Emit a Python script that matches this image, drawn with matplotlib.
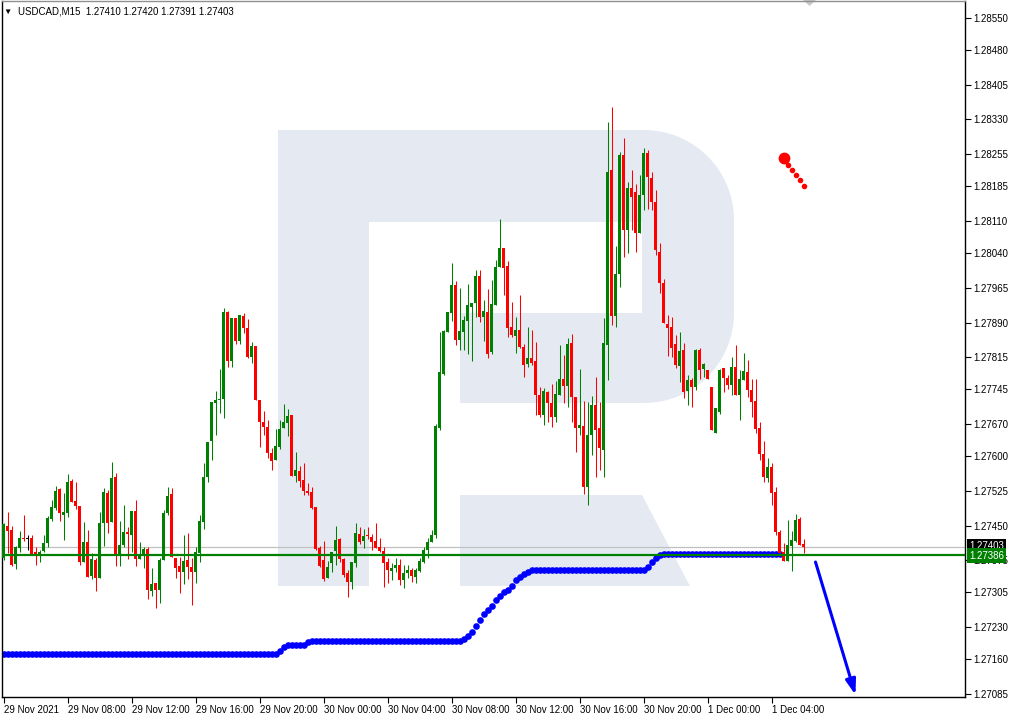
import numpy as np
import matplotlib.pyplot as plt
import matplotlib.transforms as mtransforms
from matplotlib.patches import Rectangle, Polygon, PathPatch
from matplotlib.path import Path

plt.rcParams['font.family'] = ['Liberation Sans', 'DejaVu Sans']

# USDCAD M15 candles, 29 Nov 04:00 .. 1 Dec 06:00
opens = [1.27380, 1.27449, 1.27440, 1.27367, 1.27401, 1.27423, 1.27423, 1.27423, 1.27393, 1.27388,
         1.27395, 1.27412, 1.27464, 1.27488, 1.27529, 1.27473, 1.27477, 1.27547, 1.27503, 1.27492,
         1.27371, 1.27414, 1.27341, 1.27375, 1.27336, 1.27456, 1.27521, 1.27458, 1.27555, 1.27388,
         1.27408, 1.27436, 1.27430, 1.27482, 1.27378, 1.27388, 1.27399, 1.27308, 1.27326, 1.27310,
         1.27375, 1.27477, 1.27518, 1.27380, 1.27362, 1.27349, 1.27375, 1.27360, 1.27349, 1.27391,
         1.27458, 1.27555, 1.27633, 1.27716, 1.27722, 1.27724, 1.27913, 1.27807, 1.27900, 1.27850,
         1.27904, 1.27878, 1.27815, 1.27839, 1.27722, 1.27675, 1.27664, 1.27607, 1.27592, 1.27620,
         1.27661, 1.27672, 1.27690, 1.27557, 1.27568, 1.27549, 1.27525, 1.27523, 1.27490, 1.27401,
         1.27375, 1.27336, 1.27369, 1.27395, 1.27421, 1.27378, 1.27347, 1.27328, 1.27369, 1.27432,
         1.27417, 1.27430, 1.27425, 1.27417, 1.27404, 1.27395, 1.27371, 1.27352, 1.27358, 1.27365,
         1.27332, 1.27347, 1.27354, 1.27339, 1.27352, 1.27371, 1.27397, 1.27414, 1.27430, 1.27661,
         1.27778, 1.27870, 1.27911, 1.27971, 1.27852, 1.27870, 1.27893, 1.27924, 1.27932, 1.27991,
         1.27902, 1.27913, 1.27826, 1.27928, 1.28010, 1.28052, 1.28013, 1.27880, 1.27861, 1.27874,
         1.27837, 1.27800, 1.27813, 1.27807, 1.27733, 1.27690, 1.27740, 1.27716, 1.27685, 1.27733,
         1.27768, 1.27753, 1.27846, 1.27729, 1.27661, 1.27666, 1.27534, 1.27646, 1.27711, 1.27661,
         1.27614, 1.27841, 1.28221, 1.27904, 1.27995, 1.28253, 1.28091, 1.28182, 1.28173, 1.28084,
         1.28166, 1.28257, 1.28203, 1.28151, 1.28043, 1.27976, 1.27887, 1.27880, 1.27844, 1.27796,
         1.27831, 1.27742, 1.27765, 1.27750, 1.27831, 1.27789, 1.27787, 1.27750, 1.27651, 1.27696,
         1.27792, 1.27770, 1.27755, 1.27794, 1.27733, 1.27765, 1.27783, 1.27744, 1.27720, 1.27661,
         1.27605, 1.27553, 1.27577, 1.27523, 1.27436, 1.27393, 1.27373, 1.27406, 1.27417, 1.27464,
         1.27410]
highs = [1.27456, 1.27479, 1.27449, 1.27406, 1.27438, 1.27473, 1.27430, 1.27430, 1.27404, 1.27397,
         1.27430, 1.27471, 1.27505, 1.27536, 1.27531, 1.27521, 1.27562, 1.27551, 1.27544, 1.27492,
         1.27458, 1.27440, 1.27391, 1.27380, 1.27479, 1.27531, 1.27527, 1.27588, 1.27564, 1.27460,
         1.27495, 1.27447, 1.27482, 1.27505, 1.27414, 1.27404, 1.27404, 1.27358, 1.27326, 1.27380,
         1.27484, 1.27534, 1.27531, 1.27380, 1.27382, 1.27430, 1.27434, 1.27380, 1.27404, 1.27473,
         1.27586, 1.27631, 1.27718, 1.27742, 1.27789, 1.27922, 1.27915, 1.27900, 1.27900, 1.27906,
         1.27911, 1.27898, 1.27848, 1.27839, 1.27722, 1.27698, 1.27679, 1.27618, 1.27659, 1.27679,
         1.27713, 1.27703, 1.27690, 1.27610, 1.27579, 1.27586, 1.27542, 1.27534, 1.27490, 1.27406,
         1.27417, 1.27373, 1.27393, 1.27449, 1.27423, 1.27380, 1.27354, 1.27371, 1.27456, 1.27447,
         1.27443, 1.27447, 1.27432, 1.27456, 1.27423, 1.27404, 1.27380, 1.27369, 1.27380, 1.27378,
         1.27365, 1.27365, 1.27358, 1.27358, 1.27380, 1.27404, 1.27423, 1.27440, 1.27670, 1.27870,
         1.27874, 1.27913, 1.28019, 1.27980, 1.27965, 1.27904, 1.27974, 1.27932, 1.28004, 1.28004,
         1.27939, 1.27963, 1.27982, 1.28026, 1.28114, 1.28052, 1.28023, 1.27935, 1.27902, 1.27950,
         1.27844, 1.27880, 1.27874, 1.27848, 1.27750, 1.27748, 1.27742, 1.27757, 1.27763, 1.27841,
         1.27820, 1.27857, 1.27865, 1.27729, 1.27789, 1.27720, 1.27718, 1.27731, 1.27772, 1.27718,
         1.27900, 1.28325, 1.28357, 1.28056, 1.28260, 1.28290, 1.28195, 1.28221, 1.28190, 1.28210,
         1.28268, 1.28264, 1.28216, 1.28177, 1.28062, 1.27984, 1.27906, 1.27902, 1.27863, 1.27869,
         1.27846, 1.27776, 1.27770, 1.27833, 1.27835, 1.27802, 1.27787, 1.27750, 1.27705, 1.27789,
         1.27792, 1.27776, 1.27815, 1.27841, 1.27787, 1.27824, 1.27809, 1.27768, 1.27768, 1.27675,
         1.27633, 1.27597, 1.27586, 1.27534, 1.27440, 1.27412, 1.27462, 1.27438, 1.27475, 1.27468,
         1.27420]
lows = [1.27375, 1.27391, 1.27362, 1.27356, 1.27393, 1.27417, 1.27397, 1.27388, 1.27365, 1.27371,
        1.27393, 1.27404, 1.27460, 1.27484, 1.27460, 1.27419, 1.27468, 1.27501, 1.27486, 1.27365,
        1.27371, 1.27339, 1.27334, 1.27308, 1.27336, 1.27406, 1.27434, 1.27458, 1.27362, 1.27362,
        1.27404, 1.27378, 1.27393, 1.27362, 1.27378, 1.27358, 1.27291, 1.27297, 1.27271, 1.27282,
        1.27375, 1.27473, 1.27382, 1.27336, 1.27304, 1.27323, 1.27334, 1.27278, 1.27326, 1.27371,
        1.27443, 1.27544, 1.27592, 1.27646, 1.27694, 1.27683, 1.27794, 1.27794, 1.27844, 1.27844,
        1.27867, 1.27813, 1.27802, 1.27722, 1.27620, 1.27646, 1.27597, 1.27570, 1.27592, 1.27616,
        1.27661, 1.27644, 1.27557, 1.27544, 1.27534, 1.27516, 1.27516, 1.27486, 1.27397, 1.27360,
        1.27330, 1.27336, 1.27349, 1.27365, 1.27371, 1.27339, 1.27295, 1.27313, 1.27360, 1.27410,
        1.27401, 1.27421, 1.27397, 1.27401, 1.27393, 1.27317, 1.27326, 1.27332, 1.27349, 1.27321,
        1.27315, 1.27336, 1.27328, 1.27326, 1.27349, 1.27369, 1.27380, 1.27414, 1.27423, 1.27657,
        1.27776, 1.27870, 1.27893, 1.27841, 1.27831, 1.27831, 1.27822, 1.27807, 1.27902, 1.27891,
        1.27850, 1.27813, 1.27822, 1.27928, 1.28010, 1.27950, 1.27859, 1.27859, 1.27824, 1.27835,
        1.27772, 1.27794, 1.27798, 1.27690, 1.27685, 1.27668, 1.27675, 1.27664, 1.27675, 1.27733,
        1.27716, 1.27707, 1.27675, 1.27610, 1.27646, 1.27518, 1.27495, 1.27603, 1.27555, 1.27570,
        1.27555, 1.27765, 1.27885, 1.27880, 1.27967, 1.28032, 1.28041, 1.28091, 1.28043, 1.28084,
        1.28134, 1.28136, 1.28134, 1.28036, 1.27954, 1.27889, 1.27818, 1.27815, 1.27792, 1.27761,
        1.27727, 1.27711, 1.27707, 1.27744, 1.27768, 1.27772, 1.27768, 1.27657, 1.27651, 1.27692,
        1.27740, 1.27746, 1.27733, 1.27733, 1.27679, 1.27765, 1.27729, 1.27685, 1.27651, 1.27592,
        1.27544, 1.27544, 1.27495, 1.27430, 1.27391, 1.27373, 1.27373, 1.27352, 1.27414, 1.27408,
        1.27391]
closes = [1.27453, 1.27438, 1.27365, 1.27404, 1.27423, 1.27420, 1.27423, 1.27388, 1.27388, 1.27393,
          1.27412, 1.27466, 1.27490, 1.27525, 1.27477, 1.27479, 1.27544, 1.27501, 1.27492, 1.27371,
          1.27414, 1.27339, 1.27378, 1.27336, 1.27456, 1.27523, 1.27456, 1.27553, 1.27388, 1.27408,
          1.27436, 1.27432, 1.27482, 1.27378, 1.27388, 1.27399, 1.27310, 1.27323, 1.27310, 1.27375,
          1.27477, 1.27514, 1.27382, 1.27358, 1.27349, 1.27373, 1.27360, 1.27349, 1.27393, 1.27460,
          1.27555, 1.27631, 1.27718, 1.27722, 1.27724, 1.27913, 1.27807, 1.27900, 1.27850, 1.27906,
          1.27878, 1.27815, 1.27839, 1.27722, 1.27675, 1.27664, 1.27607, 1.27590, 1.27622, 1.27659,
          1.27675, 1.27688, 1.27557, 1.27570, 1.27547, 1.27525, 1.27521, 1.27488, 1.27399, 1.27362,
          1.27334, 1.27360, 1.27393, 1.27419, 1.27378, 1.27343, 1.27328, 1.27371, 1.27434, 1.27414,
          1.27427, 1.27427, 1.27414, 1.27401, 1.27395, 1.27369, 1.27354, 1.27358, 1.27365, 1.27332,
          1.27347, 1.27354, 1.27341, 1.27354, 1.27373, 1.27397, 1.27414, 1.27430, 1.27666, 1.27783,
          1.27872, 1.27913, 1.27971, 1.27852, 1.27872, 1.27896, 1.27928, 1.27932, 1.27991, 1.27902,
          1.27915, 1.27822, 1.27930, 1.28010, 1.28052, 1.28008, 1.27878, 1.27863, 1.27874, 1.27837,
          1.27798, 1.27813, 1.27802, 1.27733, 1.27690, 1.27742, 1.27716, 1.27685, 1.27735, 1.27768,
          1.27753, 1.27844, 1.27729, 1.27661, 1.27668, 1.27534, 1.27646, 1.27711, 1.27657, 1.27618,
          1.27846, 1.28216, 1.27904, 1.27995, 1.28253, 1.28091, 1.28182, 1.28162, 1.28084, 1.28166,
          1.28257, 1.28205, 1.28151, 1.28047, 1.27976, 1.27889, 1.27878, 1.27835, 1.27798, 1.27828,
          1.27740, 1.27765, 1.27750, 1.27831, 1.27787, 1.27800, 1.27768, 1.27657, 1.27705, 1.27787,
          1.27770, 1.27755, 1.27794, 1.27733, 1.27768, 1.27785, 1.27744, 1.27718, 1.27659, 1.27605,
          1.27555, 1.27577, 1.27521, 1.27436, 1.27391, 1.27373, 1.27408, 1.27419, 1.27462, 1.27408,
          1.27403]

# blue dotted support line, one dot per bar
blue_stop = ([1.27172] * 69 + [1.27178, 1.27187] + [1.27191] * 5 + [1.27198] + [1.27200] * 38
             + [1.27204, 1.27211, 1.27219, 1.27232, 1.27245, 1.27258, 1.27267, 1.27276, 1.27289,
                1.27297, 1.27306, 1.27310, 1.27319, 1.27332, 1.27339, 1.27345, 1.27349]
             + [1.27353] * 29 + [1.27360, 1.27371, 1.27380, 1.27386] + [1.27388] * 30)

red_bars = [195, 196, 197, 198, 199, 200]
red_prices = [1.28247, 1.28231, 1.28221, 1.28210, 1.28199, 1.28186]

arrow_bars = [203, 213]
arrow_prices = [1.27371, 1.27083]

bid = 1.27403
level = 1.27386

time_labels = ['29 Nov 2021', '29 Nov 08:00', '29 Nov 12:00', '29 Nov 16:00', '29 Nov 20:00',
               '30 Nov 00:00', '30 Nov 04:00', '30 Nov 08:00', '30 Nov 12:00', '30 Nov 16:00',
               '30 Nov 20:00', '1 Dec 00:00', '1 Dec 04:00']
bars_per_label = 16
price_labels = ['1.28550', '1.28480', '1.28405', '1.28330', '1.28255', '1.28185', '1.28110',
                '1.28040', '1.27965', '1.27890', '1.27815', '1.27745', '1.27670', '1.27600',
                '1.27525', '1.27450', '1.27375', '1.27305', '1.27230', '1.27160', '1.27085']

W, H = 1011, 718
fig = plt.figure(figsize=(W / 100, H / 100), dpi=100)
fig.patch.set_facecolor('white')

# watermark logo, in pixel units
bg = fig.add_axes([0, 0, 1, 1], zorder=0)
bg.set_xlim(0, W)
bg.set_ylim(H, 0)
bg.axis('off')
pale = '#e5eaf2'
r = 90
k = 0.5523 * r
verts = [(278, 130), (734 - r, 130), (734 - r + k, 130), (734, 130 + r - k), (734, 130 + r),
         (734, 403 - r), (734, 403 - r + k), (734 - r + k, 403), (734 - r, 403), (278, 403), (278, 130)]
codes = [Path.MOVETO, Path.LINETO, Path.CURVE4, Path.CURVE4, Path.CURVE4,
         Path.LINETO, Path.CURVE4, Path.CURVE4, Path.CURVE4, Path.LINETO, Path.CLOSEPOLY]
bg.add_patch(PathPatch(Path(verts, codes), fc=pale, ec='none'))
bg.add_patch(Rectangle((278, 130), 91, 456, fc=pale, ec='none'))
bg.add_patch(Polygon([(460, 495), (642, 495), (690, 586), (460, 586)], fc=pale, ec='none'))
bg.add_patch(Rectangle((369, 222), 273, 91, fc='white', ec='none'))
bg.add_patch(Rectangle((369, 313), 91, 90, fc='white', ec='none'))
bg.add_patch(Polygon([(803, 0), (816, 0), (809.5, 6)], fc='#c8c8c8', ec='none'))

ax = fig.add_axes([2 / W, 1 - 697 / H, 963 / W, 696 / H], zorder=1)
ax.patch.set_alpha(0)

o, h, l, c = map(np.array, (opens, highs, lows, closes))
x = np.arange(len(o))
cols = np.where(c > o, '#008000', np.where(c < o, '#ff0000', '#000000'))

ax.axhline(bid, color='#c0c0c0', lw=0.9, zorder=1)
ax.plot(np.arange(len(blue_stop)), blue_stop, 'o', color='#0000ff', ms=4.8, mew=0, zorder=2)
ax.vlines(x, l, h, colors=cols, lw=0.75, zorder=3)
body = np.abs(c - o)
minh = 0.000022
bottom = np.minimum(o, c) - np.clip(minh - body, 0, None) / 2
ax.bar(x, np.maximum(body, minh), bottom=bottom, width=0.75, color=cols, linewidth=0, zorder=3)
ax.axhline(level, color='#008000', lw=1.6, zorder=4)

ax.plot(red_bars[:1], red_prices[:1], 'o', color='#ff0000', ms=8.5, mew=0, zorder=5)
ax.plot(red_bars[1:], red_prices[1:], 'o', color='#ff0000', ms=4.0, mew=0, zorder=5)

ax.annotate('', xy=(arrow_bars[1], arrow_prices[1]), xytext=(arrow_bars[0], arrow_prices[0]),
            arrowprops=dict(arrowstyle='-|>,head_length=0.9,head_width=0.3', color='#0000ff',
                            lw=2.2, shrinkA=0, shrinkB=0), zorder=6, annotation_clip=False)

ax.set_xlim(-0.375, 240.375)
ax.set_ylim(1.270785, 1.285868)

ax.set_xticks(np.arange(len(time_labels)) * bars_per_label)
ax.set_xticklabels(time_labels)
for t in ax.get_xticklabels():
    t.set_ha('left')
ax.yaxis.tick_right()
ax.set_yticks([float(p) for p in price_labels])
ax.set_yticklabels(price_labels)
ax.tick_params(axis='both', length=4, width=0.8, labelsize=7, colors='black', pad=2)
ax.tick_params(axis='x', pad=1.5)
for s in ax.spines.values():
    s.set_color('black')
    s.set_linewidth(1)
ax.spines['top'].set_color('#909090')

yt = mtransforms.blended_transform_factory(ax.transAxes, ax.transData)
ax.text(1.004, bid + 0.00003, '%.5f' % bid, transform=yt, fontsize=7, color='white', va='center',
        ha='left', bbox=dict(boxstyle='square,pad=0.22', fc='black', ec='none'), zorder=10,
        clip_on=False)
ax.text(1.004, level - 0.00001, '%.5f' % level, transform=yt, fontsize=7, color='white', va='center',
        ha='left', bbox=dict(boxstyle='square,pad=0.22', fc='#008000', ec='none'), zorder=11,
        clip_on=False)

fig.text(3 / W, 1 - 12.5 / H, '▼', fontsize=6, va='center', ha='left')
fig.text(18 / W, 1 - 12 / H, 'USDCAD,M15  1.27410 1.27420 1.27391 1.27403', fontsize=7,
         va='center', ha='left')

fig.savefig('out.png', dpi=100)
